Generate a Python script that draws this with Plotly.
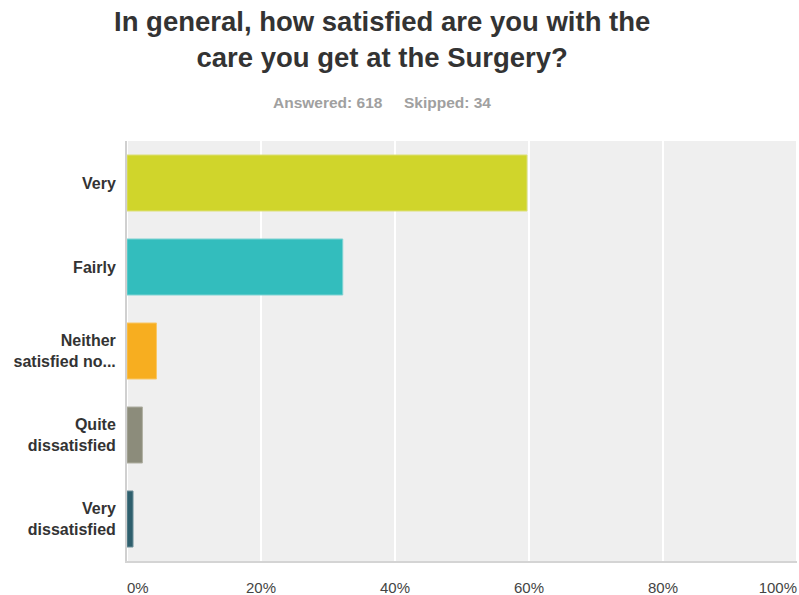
import plotly.graph_objects as go

# Survey answers (share of respondents, %)
categories = ["Very", "Fairly", "Neither<br>satisfied no...", "Quite<br>dissatisfied", "Very<br>dissatisfied"]
percentages = [59.7, 32.2, 4.4, 2.3, 0.9]
bar_colors = ["#d0d52b", "#33bdbd", "#f7ae20", "#8c8c7b", "#2f5f6d"]
edge_colors = ["#dde07a", "#7fd3d3", "#f9c867", "#b0b0a3", "#6d8f99"]

# Inner ticks are centred; the end ticks are justified inward
inner_tick_values = [20, 40, 60, 80]
inner_tick_labels = ["20%", "40%", "60%", "80%"]
first_tick_value, first_tick_label = 0, "0%"
last_tick_value, last_tick_label = 100, "100%"
grid_values = [0, 20, 40, 60, 80, 100]

NB = "\u00a0"
title_text = "In general, how satisfied are you with the<br>care you get at the Surgery?"
subtitle_text = "Answered: 618" + NB * 5 + "Skipped: 34"

font_family = "Liberation Sans, Arial, sans-serif"
tick_font = dict(size=15, color="#444444", family=font_family)

fig = go.Figure()
fig.add_trace(
    go.Bar(
        x=percentages,
        y=categories,
        orientation="h",
        marker=dict(color=bar_colors, line=dict(color=edge_colors, width=1)),
        hoverinfo="skip",
    )
)
# empty traces so the overlay axes carrying the end labels are drawn
fig.add_trace(go.Scatter(x=[None], y=[categories[0]], xaxis="x2", mode="markers",
                         showlegend=False, hoverinfo="skip"))
fig.add_trace(go.Scatter(x=[None], y=[categories[0]], xaxis="x3", mode="markers",
                         showlegend=False, hoverinfo="skip"))

end_axis_style = dict(
    overlaying="x",
    anchor="y",
    side="bottom",
    range=[0, 100],
    ticklabeloverflow="allow",
    showgrid=False,
    zeroline=False,
    showline=False,
    ticks="",
    ticklabelstandoff=16,
    tickfont=tick_font,
    fixedrange=True,
)

fig.update_layout(
    width=799,
    height=595,
    margin=dict(l=127, r=2, t=141, b=34, autoexpand=False),
    paper_bgcolor="#ffffff",
    plot_bgcolor="#efefef",
    bargap=0.333,
    showlegend=False,
    font=dict(family=font_family),
    xaxis=dict(
        range=[0, 100],
        tickvals=inner_tick_values,
        ticktext=inner_tick_labels,
        showgrid=False,
        zeroline=False,
        showline=True,
        linecolor="#d4d4d4",
        linewidth=2,
        ticks="",
        ticklabelstandoff=12,
        tickfont=tick_font,
        fixedrange=True,
    ),
    xaxis2=dict(
        tickvals=[last_tick_value],
        ticktext=[last_tick_label],
        ticklabelposition="outside left",
        **end_axis_style,
    ),
    xaxis3=dict(
        tickvals=[first_tick_value],
        ticktext=[first_tick_label],
        ticklabelposition="outside right",
        **end_axis_style,
    ),
    annotations=[
        dict(
            text=title_text,
            xref="paper", yref="paper",
            x=0.3806, y=1.2405,
            xanchor="center", yanchor="middle",
            showarrow=False,
            font=dict(size=27.5, color="#333333", family=font_family, weight="bold"),
        ),
        dict(
            text=subtitle_text,
            xref="paper", yref="paper",
            x=0.3806, y=1.0905,
            xanchor="center", yanchor="middle",
            showarrow=False,
            font=dict(size=15.5, color="#a0a0a0", family=font_family, weight="bold"),
        ),
    ],
)

# white vertical gridlines at every 20%
for gv in grid_values:
    fig.add_vline(x=gv, line=dict(color="#ffffff", width=2), layer="below")

fig.update_yaxes(
    autorange="reversed",
    showgrid=False,
    zeroline=False,
    showline=True,
    linecolor="#d0d0d0",
    linewidth=2,
    ticks="",
    ticklabelstandoff=6,
    tickfont=dict(size=16, color="#333333", family=font_family, weight="bold"),
    fixedrange=True,
)

fig.write_html("out.html")
